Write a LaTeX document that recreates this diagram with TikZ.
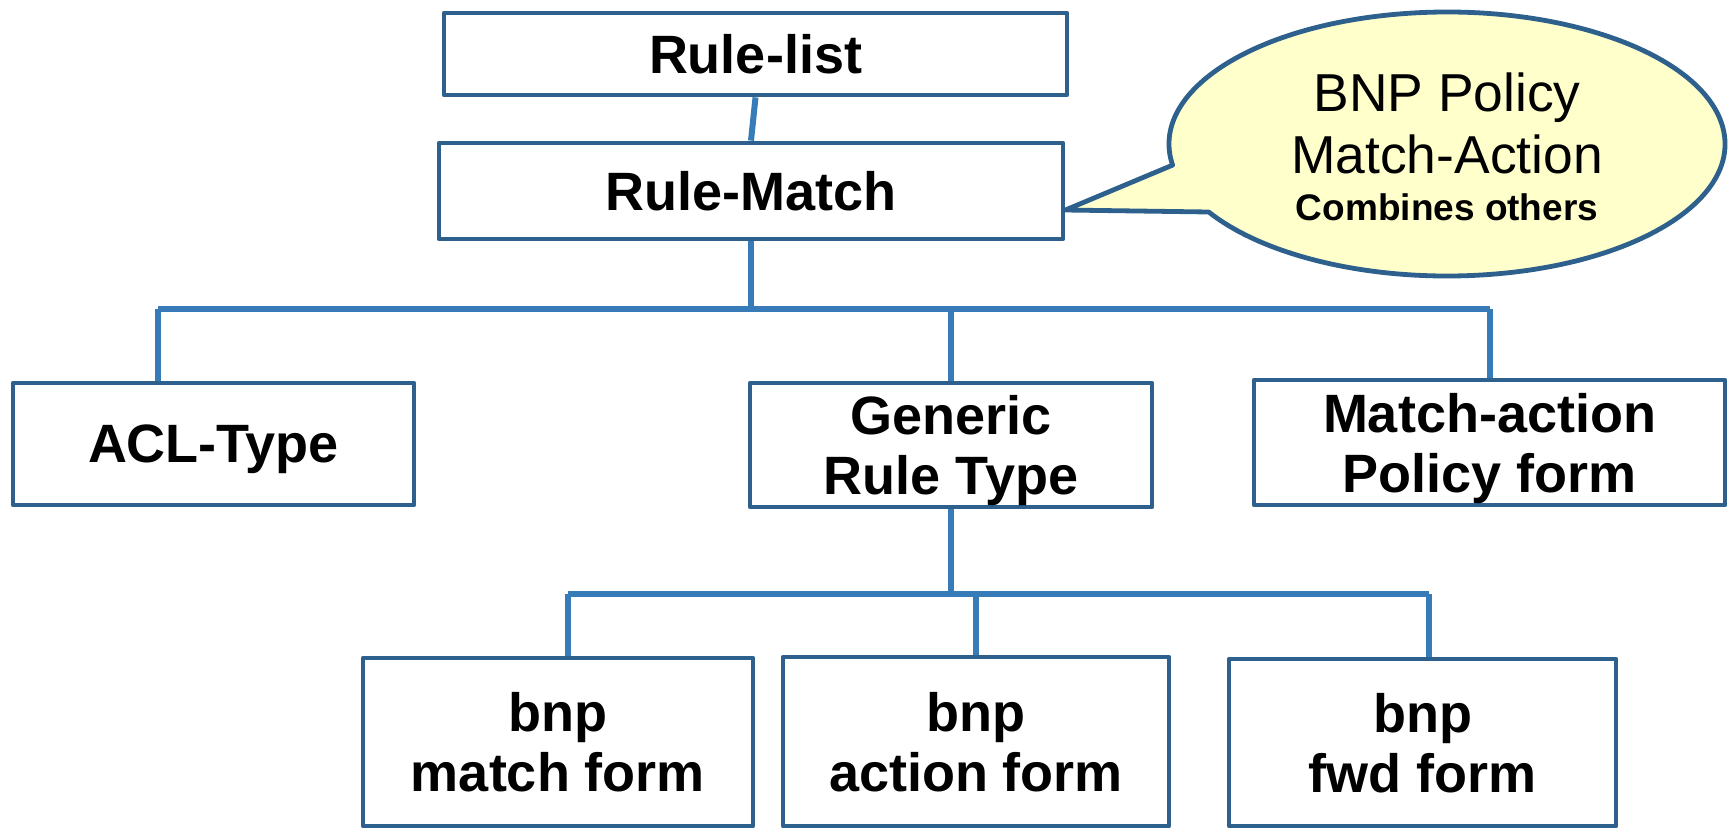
\documentclass[tikz,border=0pt]{standalone}
\usepackage{fontspec}
\setmainfont{Liberation Sans}
\definecolor{boxblue}{RGB}{45,96,140}
\definecolor{lineblue}{RGB}{55,124,184}
\definecolor{noteyellow}{RGB}{255,255,204}

\begin{document}
\begin{tikzpicture}[x=0.5pt,y=-0.5pt,
    blk/.style={draw=boxblue,line width=2.4pt,fill=white,line join=round,align=center,
      inner sep=0pt,text depth=0pt,font=\fontsize{27}{30}\selectfont\bfseries},
    conn/.style={draw=lineblue,line width=3pt}]
  \useasboundingbox (0,0) rectangle (1728,827);

  % boxes of the rule tree
  \node[blk,minimum width=311.5pt,minimum height=41pt] (rulelist) at (755.5,54) {Rule-list};
  \node[blk,minimum width=312pt,minimum height=48pt] (rulematch) at (751,191) {Rule-Match};
  \node[blk,minimum width=200.5pt,minimum height=61pt] (acl) at (213.5,444) {ACL-Type};
  \node[blk,minimum width=201pt,minimum height=62pt] (generic) at (951,445) {Generic\\Rule Type};
  \node[blk,minimum width=235.5pt,minimum height=62.5pt] (matchaction) at (1489.5,442.5) {Match-action\\Policy form};
  \node[blk,minimum width=195pt,minimum height=84pt] (bnpmatch) at (558,742) {bnp\\match form};
  \node[blk,minimum width=193pt,minimum height=84.5pt] (bnpaction) at (976,741.5) {bnp\\action form};
  \node[blk,minimum width=193.5pt,minimum height=83.5pt] (bnpfwd) at (1422.5,742.5) {bnp\\fwd form};

  % tree lines
  \coordinate (topbar) at (158,309);
  \coordinate (lowbar) at (568,594);
  \coordinate (fwdup) at (1429,594);
  \draw[conn] (rulelist.south) -- (rulematch.north);
  \draw[conn] (rulematch.south) -- (rulematch.south |- topbar);
  \draw[conn] (topbar) -- (matchaction.north |- topbar);
  \draw[conn] (topbar) -- (topbar |- acl.north);
  \draw[conn] (generic.north) -- (generic.north |- topbar);
  \draw[conn] (matchaction.north) -- (matchaction.north |- topbar);
  \draw[conn] (generic.south) -- (generic.south |- lowbar);
  \draw[conn] (lowbar) -- (fwdup);
  \draw[conn] (lowbar) -- (lowbar |- bnpmatch.north);
  \draw[conn] (bnpaction.north |- lowbar) -- (bnpaction.north);
  \draw[conn] (fwdup) -- (fwdup |- bnpfwd.north);

  % callout
  \coordinate (tip) at ([yshift=-9.5pt]rulematch.east);
  \draw[draw=boxblue,line width=2.4pt,fill=noteyellow,line join=round]
    (1447,144) ++(170.8:278 and 132) arc[start angle=170.8,end angle=509,x radius=278,y radius=132]
    -- (tip) -- cycle;
  \node[align=center,font=\fontsize{26.7}{31}\selectfont] (note) at (1447,147)
    {BNP Policy\\Match-Action\\[-7.5pt]{\fontsize{18.5}{22}\selectfont\bfseries Combines others}};
\end{tikzpicture}
\end{document}
